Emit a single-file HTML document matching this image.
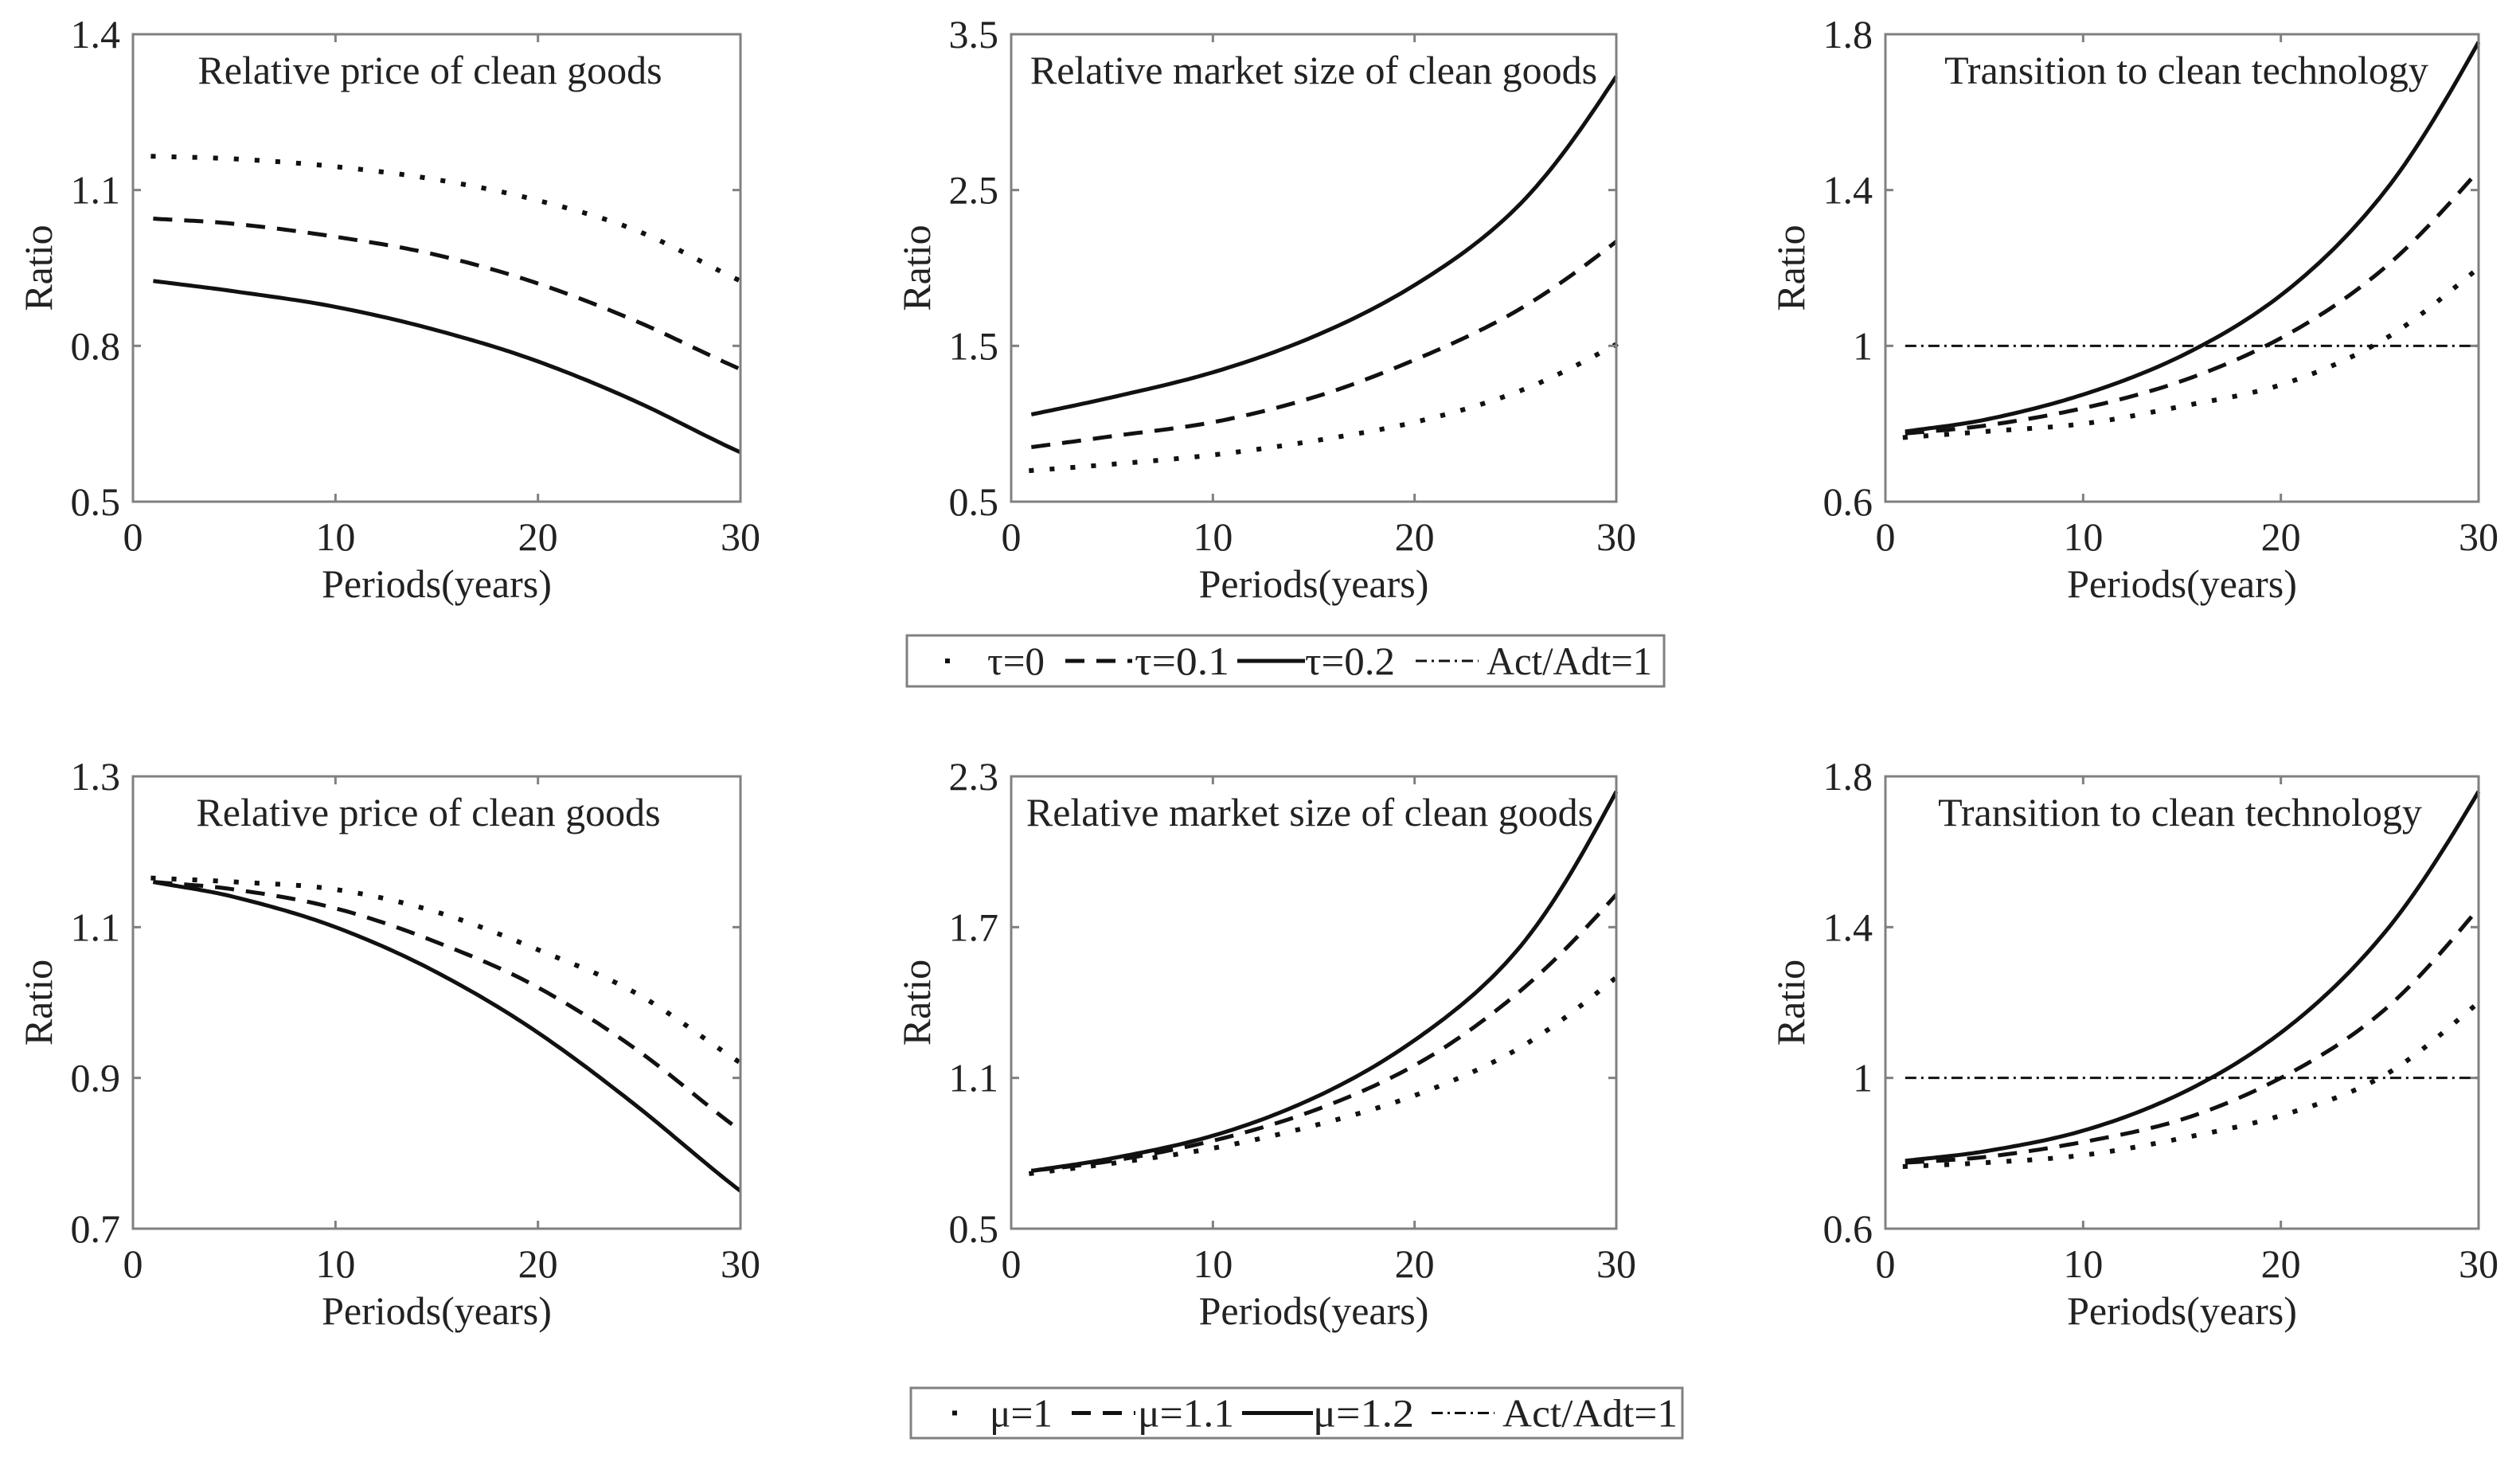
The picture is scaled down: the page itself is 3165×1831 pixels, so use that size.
<!DOCTYPE html>
<html><head><meta charset="utf-8">
<style>
html,body{margin:0;padding:0;background:#fff;}
svg{display:block;font-family:"Liberation Serif","DejaVu Serif",serif;}
</style></head>
<body>
<svg id="fig" width="3165" height="1831" viewBox="0 0 3165 1831" xmlns="http://www.w3.org/2000/svg"></svg>
<script>
// ---- data ----
const xYears = [1, 5, 10, 15, 20, 25, 30];
const xTicks = [0, 10, 20, 30];

// Top row (tau)
const p1Dotted = [1.165, 1.16, 1.145, 1.12, 1.08, 1.02, 0.925];
const p1Dashed = [1.045, 1.035, 1.01, 0.975, 0.92, 0.845, 0.755];
const p1Solid  = [0.925, 0.905, 0.875, 0.83, 0.77, 0.69, 0.595];
const p1Ticks  = [0.5, 0.8, 1.1, 1.4];
const p1TickLabels = ["0.5", "0.8", "1.1", "1.4"];

const p2Dotted = [0.70, 0.74, 0.80, 0.89, 1.01, 1.20, 1.51];
const p2Dashed = [0.85, 0.92, 1.01, 1.17, 1.41, 1.72, 2.17];
const p2Solid  = [1.06, 1.17, 1.33, 1.56, 1.89, 2.38, 3.23];
const p2Ticks  = [0.5, 1.5, 2.5, 3.5];
const p2TickLabels = ["0.5", "1.5", "2.5", "3.5"];

const p3Dotted = [0.765, 0.78, 0.80, 0.845, 0.90, 1.01, 1.20];
const p3Dashed = [0.775, 0.795, 0.84, 0.91, 1.02, 1.19, 1.45];
const p3Solid  = [0.78, 0.81, 0.875, 0.975, 1.13, 1.38, 1.78];
const p3Ticks  = [0.6, 1.0, 1.4, 1.8];
const p3TickLabels = ["0.6", "1", "1.4", "1.8"];

// Bottom row (mu)
const q1Dotted = [1.165, 1.16, 1.15, 1.12, 1.07, 1.01, 0.92];
const q1Dashed = [1.16, 1.15, 1.125, 1.08, 1.02, 0.935, 0.83];
const q1Solid  = [1.16, 1.14, 1.10, 1.04, 0.96, 0.86, 0.75];
const q1Ticks  = [0.7, 0.9, 1.1, 1.3];
const q1TickLabels = ["0.7", "0.9", "1.1", "1.3"];

const q2Dotted = [0.72, 0.76, 0.82, 0.91, 1.03, 1.21, 1.50];
const q2Dashed = [0.73, 0.77, 0.85, 0.97, 1.15, 1.43, 1.83];
const q2Solid  = [0.73, 0.78, 0.87, 1.02, 1.25, 1.60, 2.24];
const q2Ticks  = [0.5, 1.1, 1.7, 2.3];
const q2TickLabels = ["0.5", "1.1", "1.7", "2.3"];

const q3Dotted = [0.765, 0.775, 0.795, 0.84, 0.90, 1.00, 1.20];
const q3Dashed = [0.775, 0.79, 0.83, 0.89, 1.00, 1.17, 1.45];
const q3Solid  = [0.78, 0.805, 0.86, 0.96, 1.12, 1.37, 1.76];
const q3Ticks  = [0.6, 1.0, 1.4, 1.8];
const q3TickLabels = ["0.6", "1", "1.4", "1.8"];

const refLevel = 1;

const NS = "http://www.w3.org/2000/svg";
const svg = document.getElementById("fig");
const FS = 50;
function mk(tag, attrs, parent) {
  const e = document.createElementNS(NS, tag);
  for (const k in attrs) e.setAttribute(k, attrs[k]);
  (parent || svg).appendChild(e);
  return e;
}

const styles = {
  dotted: {"stroke-width": 6, "stroke-dasharray": "0.1 26", "stroke-linecap": "square"},
  dashed: {"stroke-width": 5, "stroke-dasharray": "24 15"},
  solid: {"stroke-width": 5},
  dashdot: {"stroke-width": 3, "stroke-dasharray": "14 6 3 6"}
};

// Hermite spline in log space for rendering
function curvePoints(xs, vals, sx, sy) {
  const ly = vals.map(v => Math.log(v));
  const n = xs.length;
  const m = [];
  for (let i = 0; i < n; i++) {
    if (i === 0) m.push((ly[1] - ly[0]) / (xs[1] - xs[0]));
    else if (i === n - 1) m.push((ly[n - 1] - ly[n - 2]) / (xs[n - 1] - xs[n - 2]));
    else m.push((ly[i + 1] - ly[i - 1]) / (xs[i + 1] - xs[i - 1]));
  }
  const pts = [];
  for (let i = 0; i < n - 1; i++) {
    const h = xs[i + 1] - xs[i];
    const steps = 20;
    for (let s = 0; s < steps; s++) {
      const t = s / steps;
      const h00 = 2*t*t*t - 3*t*t + 1, h10 = t*t*t - 2*t*t + t, h01 = -2*t*t*t + 3*t*t, h11 = t*t*t - t*t;
      const y = h00*ly[i] + h10*h*m[i] + h01*ly[i+1] + h11*h*m[i+1];
      pts.push([sx(xs[i] + t*h), sy(Math.exp(y))]);
    }
  }
  pts.push([sx(xs[n - 1]), sy(vals[n - 1])]);
  return pts;
}

function panel(cfg) {
  const g = mk("g", {});
  
  
  const L = cfg.x0, R = cfg.x1, T = cfg.y0, B = cfg.y1;
  const ymin = cfg.ticks[0], ymax = cfg.ticks[cfg.ticks.length - 1];
  const sx = v => L + (v - 0) / 30 * (R - L);
  const sy = v => B - (v - ymin) / (ymax - ymin) * (B - T);

  const series = [["dotted", cfg.dotted], ["dashed", cfg.dashed], ["solid", cfg.solid]];
  series.forEach(([st, vals]) => {
    const pts = curvePoints(xYears, vals, sx, sy);
    const d = "M" + pts.map(p => p[0].toFixed(1) + "," + p[1].toFixed(1)).join(" L");
    const p = mk("path", Object.assign({d: d, fill: "none", stroke: "#111", "stroke-linejoin": "round"}, styles[st]), g);
    
    
  });
  if (cfg.ref) {
    const r = mk("line", Object.assign({x1: sx(1), x2: R, y1: sy(refLevel), y2: sy(refLevel), stroke: "#111"}, styles.dashdot), g);
    
    
  }
  const box = mk("rect", {x: L, y: T, width: R - L, height: B - T, fill: "none", stroke: "#808080", "stroke-width": 3}, g);
  
  
  xTicks.forEach(v => {
    const x = sx(v);
    mk("line", {x1: x, x2: x, y1: B, y2: B - 10, stroke: "#808080", "stroke-width": 3}, g);
    mk("line", {x1: x, x2: x, y1: T, y2: T + 10, stroke: "#808080", "stroke-width": 3}, g);
    const t = mk("text", {x: x, y: B + 61, "font-size": FS, "text-anchor": "middle", fill: "#222"}, g);
    t.textContent = String(v);
    
    
  });
  cfg.ticks.forEach((v, i) => {
    const y = sy(v);
    mk("line", {x1: L, x2: L + 10, y1: y, y2: y, stroke: "#808080", "stroke-width": 3}, g);
    mk("line", {x1: R, x2: R - 10, y1: y, y2: y, stroke: "#808080", "stroke-width": 3}, g);
    const t = mk("text", {x: L - 16, y: y + 17, "font-size": FS, "text-anchor": "end", fill: "#222"}, g);
    t.textContent = cfg.tickLabels[i];
    
    
  });
  const tt = mk("text", {x: cfg.titleX, y: T + 62, "font-size": FS, "text-anchor": "middle", fill: "#222"}, g);
  tt.textContent = cfg.title;
  
  
  const xl = mk("text", {x: (L + R) / 2, y: B + 120, "font-size": FS, "text-anchor": "middle", fill: "#222"}, g);
  xl.textContent = "Periods(years)";
  
  
  const cy = (T + B) / 2;
  const yl = mk("text", {x: L - 102, y: cy, "font-size": FS, "text-anchor": "middle", fill: "#222", transform: "rotate(-90 " + (L - 102) + " " + cy + ")"}, g);
  yl.textContent = "Ratio";
  
  
}

const cols = [[167, 930], [1270, 2030], [2368, 3113]];
const rows = [[43, 630], [975, 1543]];
panel({name: "price-tau", x0: cols[0][0], x1: cols[0][1], y0: rows[0][0], y1: rows[0][1], ticks: p1Ticks, tickLabels: p1TickLabels, dotted: p1Dotted, dashed: p1Dashed, solid: p1Solid, title: "Relative price of clean goods", titleX: 540});
panel({name: "market-tau", x0: cols[1][0], x1: cols[1][1], y0: rows[0][0], y1: rows[0][1], ticks: p2Ticks, tickLabels: p2TickLabels, dotted: p2Dotted, dashed: p2Dashed, solid: p2Solid, title: "Relative market size of clean goods", titleX: 1650});
panel({name: "transition-tau", x0: cols[2][0], x1: cols[2][1], y0: rows[0][0], y1: rows[0][1], ticks: p3Ticks, tickLabels: p3TickLabels, dotted: p3Dotted, dashed: p3Dashed, solid: p3Solid, title: "Transition to clean technology", titleX: 2746, ref: true});
panel({name: "price-mu", x0: cols[0][0], x1: cols[0][1], y0: rows[1][0], y1: rows[1][1], ticks: q1Ticks, tickLabels: q1TickLabels, dotted: q1Dotted, dashed: q1Dashed, solid: q1Solid, title: "Relative price of clean goods", titleX: 538});
panel({name: "market-mu", x0: cols[1][0], x1: cols[1][1], y0: rows[1][0], y1: rows[1][1], ticks: q2Ticks, tickLabels: q2TickLabels, dotted: q2Dotted, dashed: q2Dashed, solid: q2Solid, title: "Relative market size of clean goods", titleX: 1645});
panel({name: "transition-mu", x0: cols[2][0], x1: cols[2][1], y0: rows[1][0], y1: rows[1][1], ticks: q3Ticks, tickLabels: q3TickLabels, dotted: q3Dotted, dashed: q3Dashed, solid: q3Solid, title: "Transition to clean technology", titleX: 2738, ref: true});

function legend(name, box, dotX, items) {
  const g = mk("g", {});
  
  
  mk("rect", {x: box[0], y: box[1], width: box[2] - box[0], height: box[3] - box[1], fill: "#fff", stroke: "#808080", "stroke-width": 3}, g);
  const cy = (box[1] + box[3]) / 2;
  mk("rect", {x: dotX - 3, y: cy - 3, width: 6, height: 6, fill: "#111"}, g);
  items.forEach(it => {
    if (it.line) {
      const l = mk("line", Object.assign({x1: it.line[0], x2: it.line[1], y1: cy, y2: cy, stroke: "#111"}, styles[it.style]), g);
      
      
    }
    const t = mk("text", {x: it.tx, y: cy + 17, "font-size": FS, fill: "#222", textLength: it.w, lengthAdjust: "spacingAndGlyphs"}, g);
    t.textContent = it.label;
    
    
  });
}
legend("legend-tau", [1139, 798, 2090, 862], 1190, [
  {label: "τ=0", tx: 1240, w: 72},
  {label: "τ=0.1", tx: 1425, w: 119, line: [1338, 1422], style: "dashed"},
  {label: "τ=0.2", tx: 1639, w: 113, line: [1554, 1639], style: "solid"},
  {label: "Act/Adt=1", tx: 1867, w: 208, line: [1778, 1857], style: "dashdot"}
]);
legend("legend-mu", [1144, 1743, 2113, 1806], 1199, [
  {label: "μ=1", tx: 1243, w: 79},
  {label: "μ=1.1", tx: 1429, w: 121, line: [1346, 1426], style: "dashed"},
  {label: "μ=1.2", tx: 1649, w: 127, line: [1560, 1649], style: "solid"},
  {label: "Act/Adt=1", tx: 1887, w: 220, line: [1798, 1877], style: "dashdot"}
]);
</script>
</body></html>
